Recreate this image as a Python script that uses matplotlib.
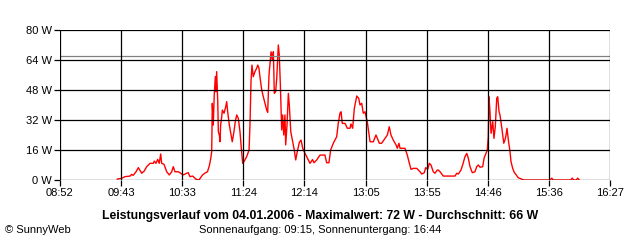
import matplotlib
matplotlib.use("Agg")
import matplotlib.pyplot as plt
import numpy as np

# time of day in minutes after midnight, power in W
minutes = [
    579.4, 583.0, 585.8, 590.0, 591.3, 592.6, 594.9, 596.8, 599.6, 601.7,
    603.7, 606.5, 609.2, 610.0, 611.4, 612.8, 614.1, 615.3, 616.1, 618.0,
    620.3, 622.4, 624.4, 625.7, 627.1, 629.9, 631.9, 634.0, 636.8, 638.1,
    639.5, 641.8, 644.5, 647.0, 649.9, 652.0, 654.0, 655.5, 656.5, 657.5,
    658.0, 658.8, 659.6, 660.5, 661.0, 661.6, 662.5, 663.0, 663.8, 664.4,
    664.9, 665.8, 666.3, 667.7, 669.1, 669.9, 670.7, 672.1, 673.5, 674.5,
    675.9, 677.0, 678.2, 679.5, 680.9, 682.0, 683.1, 684.2, 686.4, 688.4,
    689.2, 690.0, 690.8, 691.9, 693.3, 694.7, 695.6, 696.6, 697.5, 698.9,
    700.2, 701.6, 703.0, 703.8, 704.9, 706.6, 707.6, 708.5, 709.3, 710.4,
    711.3, 712.6, 713.4, 714.3, 715.4, 716.2, 717.1, 718.1, 718.7, 719.8,
    720.9, 721.7, 722.9, 724.2, 725.8, 727.0, 728.3, 730.0, 731.4, 732.8,
    734.7, 737.4, 738.8, 740.9, 742.1, 744.4, 747.1, 751.2, 752.6, 754.5,
    755.9, 758.1, 759.5, 760.9, 762.2, 763.6, 764.5, 765.5, 767.8, 769.7,
    771.9, 772.7, 774.1, 775.5, 777.5, 779.1, 780.2, 781.6, 782.9, 784.3,
    786.2, 788.5, 791.2, 793.4, 796.2, 798.1, 800.9, 802.8, 804.4, 805.8,
    807.7, 810.0, 811.0, 812.4, 813.3, 817.4, 819.3, 821.0, 822.4, 824.3,
    827.1, 829.8, 831.2, 833.4, 834.5, 836.2, 837.5, 838.9, 840.8, 842.2,
    844.1, 845.0, 846.4, 849.1, 858.8, 860.2, 861.5, 863.7, 865.1, 867.0,
    868.5, 869.8, 871.2, 873.1, 875.3, 876.7, 878.1, 879.5, 881.7, 882.8,
    884.4, 885.5, 886.3, 886.9, 887.7, 888.6, 890.0, 891.0, 892.1, 893.3,
    894.1, 895.2, 896.0, 896.8, 897.9, 899.1, 900.1, 901.0, 901.8, 902.9,
    904.3, 905.1, 906.5, 907.8, 909.8, 911.1, 913.9, 915.3, 937.5, 938.8,
    940.0, 954.5, 955.8, 957.0, 959.0, 960.3, 961.5,
]
watts = [
    0.5, 0.9, 1.8, 2.1, 3.0, 2.5, 4.4, 6.6, 3.6, 4.8,
    7.1, 8.9, 8.9, 10.1, 8.9, 11.0, 8.9, 13.9, 8.9, 8.4,
    4.4, 2.7, 4.4, 7.1, 4.4, 4.4, 3.6, 2.7, 3.6, 3.9,
    1.8, 2.1, 0.4, 0.0, 2.7, 3.7, 4.4, 7.5, 10.7, 15.1,
    40.9, 29.3, 45.3, 55.1, 47.1, 57.8, 41.8, 25.8, 24.0, 20.4,
    29.3, 33.8, 37.3, 35.6, 39.1, 41.8, 36.4, 29.3, 24.0, 20.4,
    25.8, 31.1, 34.7, 32.9, 25.8, 16.9, 8.9, 9.8, 12.4, 16.0,
    30.2, 52.4, 61.3, 55.1, 57.8, 59.6, 61.3, 59.6, 54.6, 48.0,
    44.4, 40.9, 37.3, 36.1, 56.0, 68.4, 64.0, 68.4, 46.2, 47.1,
    54.2, 72.0, 66.7, 50.7, 26.7, 34.7, 24.0, 34.7, 18.7, 29.3,
    46.2, 40.0, 25.8, 21.3, 16.0, 10.7, 15.1, 20.1, 21.3, 16.9,
    14.2, 10.7, 8.9, 10.9, 9.2, 10.7, 13.3, 13.3, 9.2, 9.2,
    16.0, 19.6, 21.3, 23.1, 30.2, 35.6, 36.4, 30.2, 30.2, 27.6,
    27.6, 29.9, 27.6, 38.2, 44.8, 43.6, 40.0, 40.9, 35.6, 36.4,
    31.1, 20.4, 20.4, 24.0, 19.6, 19.6, 22.2, 24.0, 28.4, 24.0,
    21.3, 18.7, 16.9, 19.6, 16.9, 16.9, 13.3, 8.9, 5.7, 6.2,
    6.2, 4.4, 3.2, 3.9, 6.6, 5.7, 8.9, 8.0, 4.4, 3.6,
    5.3, 5.3, 4.4, 2.1, 2.1, 3.6, 3.2, 5.3, 8.0, 12.4,
    14.2, 11.6, 7.1, 3.9, 4.4, 7.1, 8.0, 6.8, 7.1, 11.6,
    14.2, 16.0, 23.1, 44.4, 36.4, 24.9, 31.1, 22.2, 28.4, 43.6,
    44.4, 36.4, 34.7, 31.1, 25.8, 19.6, 21.3, 24.0, 27.6, 21.3,
    15.1, 9.8, 6.2, 4.1, 2.3, 1.2, 0.5, 0.0, 0.0, 1.0,
    0.0, 0.0, 1.0, 0.0, 0.0, 1.0, 0.0,
]

tick_labels = ["08:52", "09:43", "10:33", "11:24", "12:14",
               "13:05", "13:55", "14:46", "15:36", "16:27"]
t_start, t_end = 532, 987
y_ticks = [0, 16, 32, 48, 64, 80]
average = 66

plt.rcParams['font.family'] = ['Liberation Sans', 'DejaVu Sans']

fig = plt.figure(figsize=(6.4, 2.4), dpi=100)
ax = fig.add_axes([60 / 640, 60 / 240, 550 / 640, 150 / 240])

ax.plot(minutes, watts, color='red', lw=1, zorder=2)
ax.axhline(average, color='#808080', lw=0.9, zorder=3)

x_ticks = np.linspace(t_start, t_end, len(tick_labels))
for xt in x_ticks:
    ax.axvline(xt, color='black', lw=0.9, zorder=4)
for yt in y_ticks:
    ax.axhline(yt, color='black', lw=0.9, zorder=4)

ax.set_xlim(t_start, t_end)
ax.set_ylim(0, 80)
ax.set_xticks(x_ticks)
ax.set_xticklabels(tick_labels)
ax.set_yticks(y_ticks)
ax.set_yticklabels([f"{v} W" for v in y_ticks])
ax.tick_params(length=4, width=0.9, labelsize=8, pad=2)
for s in ax.spines.values():
    s.set_visible(False)

fig.text(0.5, 24 / 240, "Leistungsverlauf vom 04.01.2006 - Maximalwert: 72 W - Durchschnitt: 66 W",
         ha='center', va='center', fontsize=8.8, fontweight='bold')
fig.text(0.5, 10 / 240, "Sonnenaufgang: 09:15, Sonnenuntergang: 16:44",
         ha='center', va='center', fontsize=8)
fig.text(5 / 640, 10 / 240, "© SunnyWeb", ha='left', va='center', fontsize=8)

fig.savefig("out.png", dpi=100)
